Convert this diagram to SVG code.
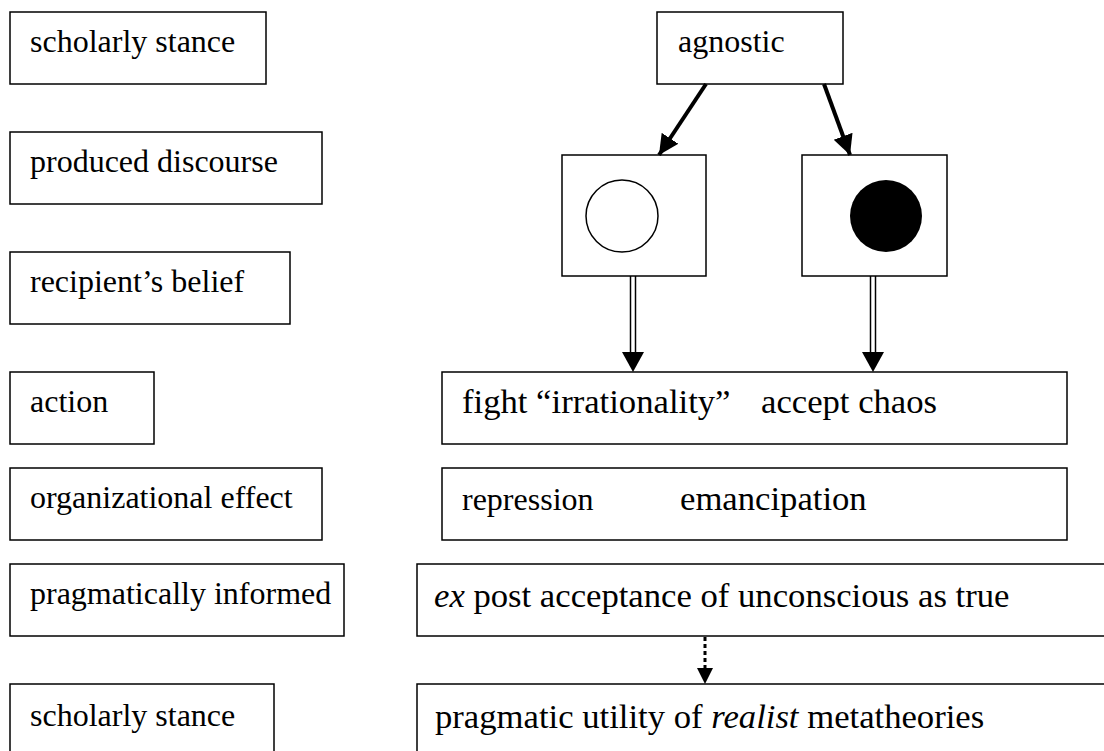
<svg xmlns="http://www.w3.org/2000/svg" width="1104" height="751" viewBox="0 0 1104 751">
<style>
.box{fill:#fff;stroke:#000;stroke-width:1.5}
text{font-family:"Liberation Serif","Times New Roman",serif;font-size:32px;fill:#000}
.big{font-size:34.67px}
.it{font-style:italic}
.heavy{stroke:#000;stroke-width:4;fill:none}
.thin{stroke:#000;stroke-width:1.5;fill:none}
.dot{stroke:#000;stroke-width:3;stroke-dasharray:4 3;fill:none}
</style>
<defs>
<marker id="ah" markerUnits="userSpaceOnUse" markerWidth="22" markerHeight="22" refX="20" refY="10" orient="auto" viewBox="0 0 22 20">
<path d="M0,0 L20,10 L0,20 Z" fill="#000"/>
</marker>
</defs>
<rect width="1104" height="751" fill="#fff"/>
<g id="left-scholarly-stance-1"><rect class="box" x="10" y="12" width="256" height="72"/><text x="30" y="52">scholarly stance</text></g>
<g id="left-produced-discourse"><rect class="box" x="10" y="132" width="312" height="72"/><text x="30" y="172">produced discourse</text></g>
<g id="left-recipients-belief"><rect class="box" x="10" y="252" width="280" height="72"/><text x="30" y="292">recipient’s belief</text></g>
<g id="left-action"><rect class="box" x="10" y="372" width="144" height="72"/><text x="30" y="412">action</text></g>
<g id="left-organizational-effect"><rect class="box" x="10" y="468" width="312" height="72"/><text x="30" y="508">organizational effect</text></g>
<g id="left-pragmatically-informed"><rect class="box" x="10" y="564" width="334" height="72"/><text x="30" y="604">pragmatically informed</text></g>
<g id="left-scholarly-stance-2"><rect class="box" x="10" y="684" width="264" height="80"/><text x="30" y="726">scholarly stance</text></g>

<g id="agnostic"><rect class="box" x="657" y="12" width="186" height="72"/><text x="678" y="52">agnostic</text></g>
<g id="white-circle"><rect class="box" x="562" y="155" width="144" height="121"/><circle cx="622" cy="216" r="36" fill="#fff" stroke="#000" stroke-width="1.5"/></g>
<g id="black-circle"><rect class="box" x="802" y="155" width="145" height="121"/><circle cx="886" cy="216" r="36" fill="#000"/></g>
<g id="action-box"><rect class="box" x="442" y="372" width="625" height="72"/><text class="big" x="462" y="413">fight “irrationality”</text><text class="big" x="761" y="413">accept chaos</text></g>
<g id="effect-box"><rect class="box" x="442" y="468" width="625" height="72"/><text x="462" y="510">repression</text><text class="big" x="680" y="510">emancipation</text></g>
<g id="ex-post-box"><rect class="box" x="417" y="564" width="700" height="72"/><text class="big" x="434" y="607"><tspan class="it">ex</tspan> post acceptance of unconscious as true</text></g>
<g id="utility-box"><rect class="box" x="417" y="684" width="700" height="80"/><text class="big" x="435" y="728">pragmatic utility of <tspan class="it">realist</tspan> metatheories</text></g>

<g id="connectors">
<line class="heavy" x1="706" y1="84" x2="659" y2="155" marker-end="url(#ah)"/>
<line class="heavy" x1="824" y1="84" x2="850" y2="155" marker-end="url(#ah)"/>
<line class="thin" x1="630.5" y1="276" x2="630.5" y2="354"/>
<line class="thin" x1="635.5" y1="276" x2="635.5" y2="354"/>
<path d="M622,352 L644,352 L633,372 Z" fill="#000"/>
<line class="thin" x1="870.5" y1="276" x2="870.5" y2="354"/>
<line class="thin" x1="875.5" y1="276" x2="875.5" y2="354"/>
<path d="M862,352 L884,352 L873,372 Z" fill="#000"/>
<line class="dot" x1="705" y1="637" x2="705" y2="669"/>
<path d="M697,668 L713,668 L705,684 Z" fill="#000"/>
</g>
</svg>
